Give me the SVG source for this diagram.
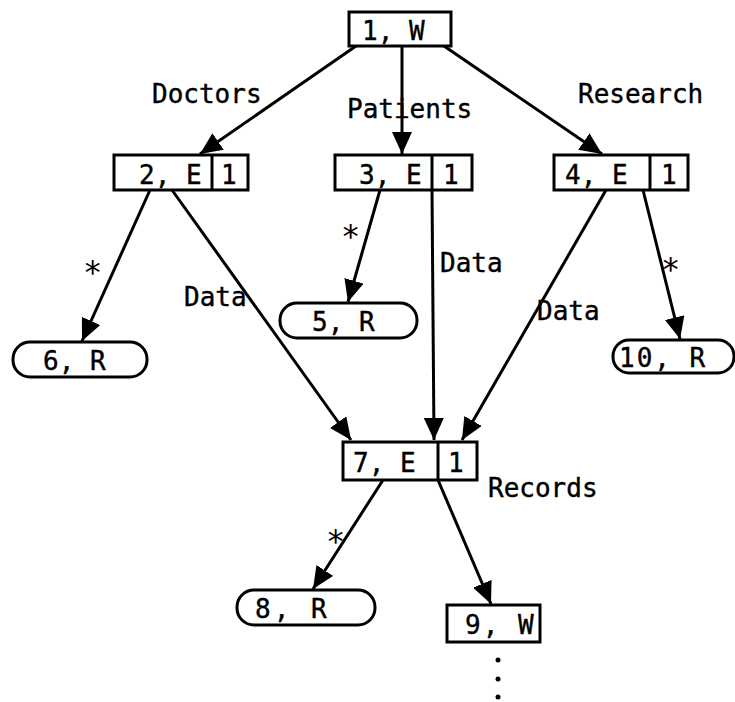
<svg xmlns="http://www.w3.org/2000/svg" width="735" height="702" viewBox="0 0 735 702">
<defs>
<style>
.box{fill:#fff;stroke:#000;stroke-width:3}
.t{font-family:"DejaVu Sans Mono","Liberation Mono",monospace;font-size:26px;fill:#000;stroke:#000;stroke-width:0.4}
.s{font-family:"DejaVu Sans Mono","Liberation Mono",monospace;font-size:32px;fill:#000}
.e{stroke:#000;stroke-width:3;fill:none;marker-end:url(#ah)}
</style>
<marker id="ah" markerUnits="userSpaceOnUse" markerWidth="24" markerHeight="20" refX="22" refY="10" orient="auto">
<path d="M0,0 L22,10 L0,20 Z" fill="#000"/>
</marker>
</defs>
<rect width="735" height="702" fill="#fff"/>
<g id="connectors">
<line class="e" x1="356" y1="46" x2="200" y2="154"/>
<line class="e" x1="402" y1="46" x2="402" y2="154"/>
<line class="e" x1="444" y1="46" x2="602" y2="154"/>
<line class="e" x1="150" y1="190" x2="82" y2="341"/>
<line class="e" x1="172" y1="190" x2="351" y2="440"/>
<line class="e" x1="380" y1="190" x2="348" y2="302"/>
<line class="e" x1="432" y1="190" x2="434" y2="440"/>
<line class="e" x1="606" y1="190" x2="462" y2="440"/>
<line class="e" x1="643" y1="190" x2="680" y2="339"/>
<line class="e" x1="383" y1="480" x2="313" y2="589"/>
<line class="e" x1="438" y1="480" x2="491" y2="604"/>
<text class="t" x="152" y="103">Doctors</text>
<text class="t" x="347" y="118">Patients</text>
<text class="t" x="578" y="103">Research</text>
<text class="t" x="184" y="306">Data</text>
<text class="t" x="440" y="272">Data</text>
<text class="t" x="537" y="320">Data</text>
<text class="t" x="488" y="497">Records</text>
<text class="s" x="83" y="283">*</text>
<text class="s" x="341" y="247">*</text>
<text class="s" x="661" y="280">*</text>
<text class="s" x="326" y="552">*</text>
</g>
<g id="n1"><rect class="box" x="349" y="12" width="102" height="34"/><text class="t" x="362" y="40">1, W</text></g>
<g id="n2"><rect class="box" x="114" y="155" width="134" height="35"/><line x1="212" y1="155" x2="212" y2="190" stroke="#000" stroke-width="3"/><text class="t" x="139" y="184">2, E</text><text class="t" x="221" y="184">1</text></g>
<g id="n3"><rect class="box" x="335" y="155" width="137" height="35"/><line x1="432" y1="155" x2="432" y2="190" stroke="#000" stroke-width="3"/><text class="t" x="359" y="184">3, E</text><text class="t" x="443" y="184">1</text></g>
<g id="n4"><rect class="box" x="554" y="155" width="134" height="35"/><line x1="650" y1="155" x2="650" y2="190" stroke="#000" stroke-width="3"/><text class="t" x="565" y="184">4, E</text><text class="t" x="661" y="184">1</text></g>
<g id="n5"><rect class="box" x="280" y="303" width="137" height="35" rx="17"/><text class="t" x="312" y="331">5, R</text></g>
<g id="n6"><rect class="box" x="13" y="342" width="134" height="35" rx="17"/><text class="t" x="43" y="370">6, R</text></g>
<g id="n10"><rect class="box" x="613" y="340" width="121" height="33" rx="16"/><text class="t" x="619" y="367" letter-spacing="2">10, R</text></g>
<g id="n7"><rect class="box" x="343" y="442" width="134" height="38"/><line x1="438" y1="442" x2="438" y2="480" stroke="#000" stroke-width="3"/><text class="t" x="353" y="472">7, E</text><text class="t" x="448" y="472">1</text></g>
<g id="n8"><rect class="box" x="237" y="590" width="138" height="35" rx="17"/><text class="t" x="255" y="618" letter-spacing="3">8, R</text></g>
<g id="n9"><rect class="box" x="447" y="605" width="93" height="37"/><text class="t" x="465" y="634" letter-spacing="2">9, W</text></g>
<g id="dots"><circle cx="498" cy="660" r="2.5"/><circle cx="498" cy="679" r="2.5"/><circle cx="498" cy="697" r="2.5"/></g>
</svg>
